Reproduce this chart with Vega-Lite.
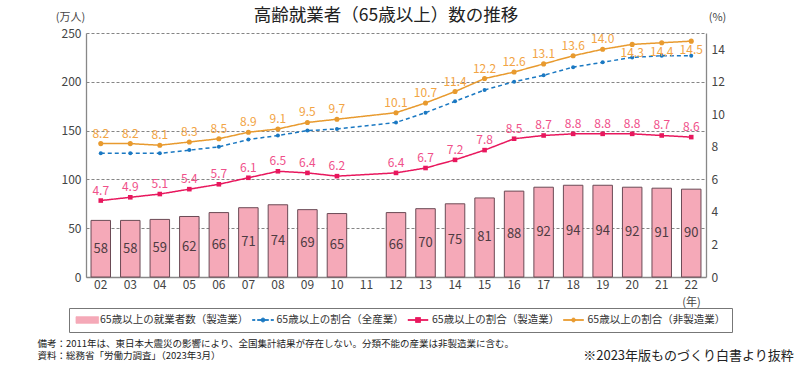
{
  "$schema": "https://vega.github.io/schema/vega-lite/v6.json",
  "autosize": "none",
  "width": 620,
  "height": 244,
  "padding": {"left": 86, "top": 33, "right": 93, "bottom": 92},
  "background": "white",
  "config": {
    "view": {"stroke": null},
    "font": "Noto Sans CJK JP",
    "text": {"font": "Noto Sans CJK JP"}
  },
  "title": {
    "text": "高齢就業者（65歳以上）数の推移",
    "font": "Noto Sans CJK JP",
    "fontSize": 17.5,
    "fontWeight": "normal",
    "color": "#222222",
    "anchor": "middle",
    "dx": -10,
    "dy": 19,
    "offset": 6
  },
  "datasets": {
    "workers": [
      {"year": "02", "workers": 58}, {"year": "03", "workers": 58}, {"year": "04", "workers": 59},
      {"year": "05", "workers": 62}, {"year": "06", "workers": 66}, {"year": "07", "workers": 71},
      {"year": "08", "workers": 74}, {"year": "09", "workers": 69}, {"year": "10", "workers": 65},
      {"year": "12", "workers": 66}, {"year": "13", "workers": 70}, {"year": "14", "workers": 75},
      {"year": "15", "workers": 81}, {"year": "16", "workers": 88}, {"year": "17", "workers": 92},
      {"year": "18", "workers": 94}, {"year": "19", "workers": 94}, {"year": "20", "workers": 92},
      {"year": "21", "workers": 91}, {"year": "22", "workers": 90}
    ],
    "share": [
      {"year": "02", "series": "65歳以上の割合（全産業）", "value": 7.6},
      {"year": "03", "series": "65歳以上の割合（全産業）", "value": 7.6},
      {"year": "04", "series": "65歳以上の割合（全産業）", "value": 7.6},
      {"year": "05", "series": "65歳以上の割合（全産業）", "value": 7.8},
      {"year": "06", "series": "65歳以上の割合（全産業）", "value": 8.0},
      {"year": "07", "series": "65歳以上の割合（全産業）", "value": 8.45},
      {"year": "08", "series": "65歳以上の割合（全産業）", "value": 8.7},
      {"year": "09", "series": "65歳以上の割合（全産業）", "value": 9.0},
      {"year": "10", "series": "65歳以上の割合（全産業）", "value": 9.1},
      {"year": "12", "series": "65歳以上の割合（全産業）", "value": 9.5},
      {"year": "13", "series": "65歳以上の割合（全産業）", "value": 10.1},
      {"year": "14", "series": "65歳以上の割合（全産業）", "value": 10.8},
      {"year": "15", "series": "65歳以上の割合（全産業）", "value": 11.5},
      {"year": "16", "series": "65歳以上の割合（全産業）", "value": 12.0},
      {"year": "17", "series": "65歳以上の割合（全産業）", "value": 12.4},
      {"year": "18", "series": "65歳以上の割合（全産業）", "value": 12.9},
      {"year": "19", "series": "65歳以上の割合（全産業）", "value": 13.2},
      {"year": "20", "series": "65歳以上の割合（全産業）", "value": 13.5},
      {"year": "21", "series": "65歳以上の割合（全産業）", "value": 13.6},
      {"year": "22", "series": "65歳以上の割合（全産業）", "value": 13.6},
      {"year": "02", "series": "65歳以上の割合（製造業）", "value": 4.7},
      {"year": "03", "series": "65歳以上の割合（製造業）", "value": 4.9},
      {"year": "04", "series": "65歳以上の割合（製造業）", "value": 5.1},
      {"year": "05", "series": "65歳以上の割合（製造業）", "value": 5.4},
      {"year": "06", "series": "65歳以上の割合（製造業）", "value": 5.7},
      {"year": "07", "series": "65歳以上の割合（製造業）", "value": 6.1},
      {"year": "08", "series": "65歳以上の割合（製造業）", "value": 6.5},
      {"year": "09", "series": "65歳以上の割合（製造業）", "value": 6.4},
      {"year": "10", "series": "65歳以上の割合（製造業）", "value": 6.2},
      {"year": "12", "series": "65歳以上の割合（製造業）", "value": 6.4},
      {"year": "13", "series": "65歳以上の割合（製造業）", "value": 6.7},
      {"year": "14", "series": "65歳以上の割合（製造業）", "value": 7.2},
      {"year": "15", "series": "65歳以上の割合（製造業）", "value": 7.8},
      {"year": "16", "series": "65歳以上の割合（製造業）", "value": 8.5},
      {"year": "17", "series": "65歳以上の割合（製造業）", "value": 8.7},
      {"year": "18", "series": "65歳以上の割合（製造業）", "value": 8.8},
      {"year": "19", "series": "65歳以上の割合（製造業）", "value": 8.8},
      {"year": "20", "series": "65歳以上の割合（製造業）", "value": 8.8},
      {"year": "21", "series": "65歳以上の割合（製造業）", "value": 8.7},
      {"year": "22", "series": "65歳以上の割合（製造業）", "value": 8.6},
      {"year": "02", "series": "65歳以上の割合（非製造業）", "value": 8.2},
      {"year": "03", "series": "65歳以上の割合（非製造業）", "value": 8.2},
      {"year": "04", "series": "65歳以上の割合（非製造業）", "value": 8.1},
      {"year": "05", "series": "65歳以上の割合（非製造業）", "value": 8.3},
      {"year": "06", "series": "65歳以上の割合（非製造業）", "value": 8.5},
      {"year": "07", "series": "65歳以上の割合（非製造業）", "value": 8.9},
      {"year": "08", "series": "65歳以上の割合（非製造業）", "value": 9.1},
      {"year": "09", "series": "65歳以上の割合（非製造業）", "value": 9.5},
      {"year": "10", "series": "65歳以上の割合（非製造業）", "value": 9.7},
      {"year": "12", "series": "65歳以上の割合（非製造業）", "value": 10.1},
      {"year": "13", "series": "65歳以上の割合（非製造業）", "value": 10.7},
      {"year": "14", "series": "65歳以上の割合（非製造業）", "value": 11.4},
      {"year": "15", "series": "65歳以上の割合（非製造業）", "value": 12.2},
      {"year": "16", "series": "65歳以上の割合（非製造業）", "value": 12.6},
      {"year": "17", "series": "65歳以上の割合（非製造業）", "value": 13.1},
      {"year": "18", "series": "65歳以上の割合（非製造業）", "value": 13.6},
      {"year": "19", "series": "65歳以上の割合（非製造業）", "value": 14.0},
      {"year": "20", "series": "65歳以上の割合（非製造業）", "value": 14.3},
      {"year": "21", "series": "65歳以上の割合（非製造業）", "value": 14.4},
      {"year": "22", "series": "65歳以上の割合（非製造業）", "value": 14.5}
    ]
  },
  "encoding": {
    "x": {
      "field": "year",
      "type": "ordinal",
      "scale": {
        "domain": ["02","03","04","05","06","07","08","09","10","11","12","13","14","15","16","17","18","19","20","21","22"],
        "paddingInner": 0.34,
        "paddingOuter": 0.17
      },
      "axis": {
        "title": "(年)",
        "titleX": 605,
        "titleY": 25,
        "titleAlign": "center",
        "titleBaseline": "middle",
        "titleFontSize": 11,
        "titleFontWeight": "normal",
        "titleColor": "#444444",
        "labelAngle": 0,
        "labelFontSize": 12,
        "labelColor": "#444444",
        "labelPadding": 2,
        "ticks": false,
        "domainColor": "#888888",
        "domainWidth": 1.3,
        "grid": false
      }
    }
  },
  "layer": [
    {
      "data": {"name": "workers"},
      "mark": {"type": "bar", "fill": "#F5A9B8", "stroke": "#6B4A55", "strokeWidth": 1},
      "encoding": {
        "y": {
          "field": "workers",
          "type": "quantitative",
          "scale": {"domain": [0, 250], "nice": false},
          "axis": {
            "orient": "left",
            "values": [0, 50, 100, 150, 200, 250],
            "title": "(万人)",
            "titleAngle": 0,
            "titleX": -16,
            "titleY": -16,
            "titleAlign": "center",
            "titleBaseline": "middle",
            "titleFontSize": 11,
            "titleFontWeight": "normal",
            "titleColor": "#444444",
            "labelFontSize": 12,
            "labelColor": "#444444",
            "labelPadding": 5,
            "ticks": false,
            "domainColor": "#888888",
            "domainWidth": 1.3,
            "grid": true,
            "gridColor": "#666666",
            "gridDash": [3, 2],
            "gridWidth": 0.8
          }
        }
      }
    },
    {
      "data": {"name": "workers"},
      "mark": {"type": "text", "fontSize": 13, "color": "#4D3B42", "baseline": "middle"},
      "encoding": {
        "y": {
          "field": "workers",
          "type": "quantitative",
          "scale": {"domain": [0, 500], "nice": false},
          "axis": {
            "orient": "left",
            "domain": false,
            "ticks": false,
            "labels": false,
            "grid": false,
            "title": ["備考：2011年は、東日本大震災の影響により、全国集計結果が存在しない。分類不能の産業は非製造業に含む。", "資料：総務省「労働力調査」（2023年3月）"],
            "titleAngle": 0,
            "titleAlign": "left",
            "titleBaseline": "top",
            "titleX": -49,
            "titleY": 305,
            "titleFontSize": 9.5,
            "titleLineHeight": 12.5,
            "titleFontWeight": "normal",
            "titleColor": "#222222"
          }
        },
        "text": {"field": "workers", "type": "quantitative"}
      }
    },
    {
      "data": {"name": "share"},
      "mark": {"type": "line", "strokeWidth": 1.5},
      "encoding": {
        "y": {
          "field": "value",
          "type": "quantitative",
          "scale": {"domain": [0, 15], "nice": false},
          "axis": {
            "orient": "right",
            "values": [0, 2, 4, 6, 8, 10, 12, 14],
            "title": "(%)",
            "titleAngle": 0,
            "titleX": 11,
            "titleY": -16,
            "titleAlign": "center",
            "titleBaseline": "middle",
            "titleFontSize": 11,
            "titleFontWeight": "normal",
            "titleColor": "#444444",
            "labelFontSize": 12,
            "labelColor": "#444444",
            "labelPadding": 5,
            "ticks": false,
            "domainColor": "#888888",
            "domainWidth": 1.3,
            "grid": false
          }
        },
        "color": {
          "field": "series",
          "type": "nominal",
          "scale": {
            "domain": ["65歳以上の就業者数（製造業）", "65歳以上の割合（全産業）", "65歳以上の割合（製造業）", "65歳以上の割合（非製造業）"],
            "range": ["#F5A9B8", "#1A78C2", "#E8175D", "#E89A2E"]
          },
          "legend": {
            "orient": "none",
            "legendX": -17,
            "legendY": 275,
            "direction": "horizontal",
            "columns": 4,
            "title": null,
            "strokeColor": "#777777",
            "fillColor": "white",
            "padding": 6.5,
            "labelFont": "Noto Sans CJK JP",
            "labelFontSize": 10.5,
            "labelColor": "#333333",
            "labelOffset": 13.5,
            "columnPadding": 1.5,
            "symbolSize": 100,
            "symbolStrokeWidth": 0.8,
            "encode": {
              "symbols": {
                "update": {
                  "shape": {"signal": "datum.value == '65歳以上の就業者数（製造業）' ? 'M-1,-0.66H3.52V0.66H-1Z' : datum.value == '65歳以上の割合（全産業）' ? 'M-1,-0.1H-0.5V0.1H-1Z M0,-0.1H2.2V0.1H0Z M2.7,-0.1H3.2V0.1H2.7Z M1.5,0A0.4,0.4 0 1,1 0.7,0A0.4,0.4 0 1,1 1.5,0Z' : datum.value == '65歳以上の割合（製造業）' ? 'M-1,-0.1H3V0.1H-1Z M0.5,-0.5H1.5V0.5H0.5Z' : 'M-1,-0.1H3V0.1H-1Z M1.4,0A0.4,0.4 0 1,1 0.6,0A0.4,0.4 0 1,1 1.4,0Z'"},
                  "fill": {"signal": "datum.value == '65歳以上の就業者数（製造業）' ? '#F5A9B8' : datum.value == '65歳以上の割合（全産業）' ? '#1A78C2' : datum.value == '65歳以上の割合（製造業）' ? '#E8175D' : '#E89A2E'"},
                  "stroke": {"signal": "datum.value == '65歳以上の就業者数（製造業）' ? '#6B4A55' : datum.value == '65歳以上の割合（全産業）' ? '#1A78C2' : datum.value == '65歳以上の割合（製造業）' ? '#E8175D' : '#E89A2E'"},
                  "strokeWidth": {"value": 0.8},
                  "size": {"value": 100},
                  "opacity": {"value": 1},
                  "fillOpacity": {"value": 1},
                  "strokeDash": {"value": []}
                }
              }
            }
          }
        },
        "strokeDash": {
          "field": "series",
          "type": "nominal",
          "scale": {
            "domain": ["65歳以上の割合（全産業）", "65歳以上の割合（製造業）", "65歳以上の割合（非製造業）"],
            "range": [[4, 3], [1, 0], [1, 0]]
          },
          "legend": null
        }
      }
    },
    {
      "data": {"name": "share"},
      "mark": {"type": "point", "filled": true, "opacity": 1},
      "encoding": {
        "y": {"field": "value", "type": "quantitative", "scale": {"domain": [0, 15], "nice": false}, "axis": null},
        "fill": {
          "field": "series",
          "type": "nominal",
          "scale": {
            "domain": ["65歳以上の割合（全産業）", "65歳以上の割合（製造業）", "65歳以上の割合（非製造業）"],
            "range": ["#1A78C2", "#E8175D", "#E89A2E"]
          },
          "legend": null
        },
        "shape": {
          "field": "series",
          "type": "nominal",
          "scale": {
            "domain": ["65歳以上の割合（全産業）", "65歳以上の割合（製造業）", "65歳以上の割合（非製造業）"],
            "range": ["circle", "square", "circle"]
          },
          "legend": null
        },
        "size": {
          "field": "series",
          "type": "nominal",
          "scale": {
            "domain": ["65歳以上の割合（全産業）", "65歳以上の割合（製造業）", "65歳以上の割合（非製造業）"],
            "range": [16, 26, 18]
          },
          "legend": null
        }
      }
    },
    {
      "data": {"name": "share"},
      "transform": [{"filter": "datum.series == '65歳以上の割合（製造業）'"}],
      "mark": {"type": "text", "fontSize": 12, "color": "#F0508A", "baseline": "middle", "dy": -10},
      "encoding": {
        "y": {"field": "value", "type": "quantitative", "scale": {"domain": [0, 15], "nice": false}, "axis": null},
        "text": {"field": "value", "type": "quantitative", "format": ".1f"}
      }
    },
    {
      "data": {"name": "share"},
      "transform": [{"filter": "datum.series == '65歳以上の割合（非製造業）' && datum.year < '20'"}],
      "mark": {"type": "text", "fontSize": 12, "color": "#F2A444", "baseline": "middle", "dy": -10},
      "encoding": {
        "y": {"field": "value", "type": "quantitative", "scale": {"domain": [0, 15], "nice": false}, "axis": null},
        "text": {"field": "value", "type": "quantitative", "format": ".1f"}
      }
    },
    {
      "data": {"name": "share"},
      "transform": [{"filter": "datum.series == '65歳以上の割合（非製造業）' && datum.year >= '20'"}],
      "mark": {"type": "text", "fontSize": 12, "color": "#F2A444", "baseline": "middle", "dy": 9},
      "encoding": {
        "y": {
          "field": "value",
          "type": "quantitative",
          "scale": {"domain": [0, 15], "nice": false},
          "axis": {
            "orient": "right",
            "domain": false,
            "ticks": false,
            "labels": false,
            "grid": false,
            "title": "※2023年版ものづくり白書より抜粋",
            "titleAngle": 0,
            "titleAlign": "center",
            "titleBaseline": "middle",
            "titleX": -18,
            "titleY": 322,
            "titleFontSize": 13,
            "titleFontWeight": "normal",
            "titleColor": "#222222"
          }
        },
        "text": {"field": "value", "type": "quantitative", "format": ".1f"}
      }
    }
  ],
  "resolve": {"scale": {"y": "independent"}, "axis": {"y": "independent"}}
}
